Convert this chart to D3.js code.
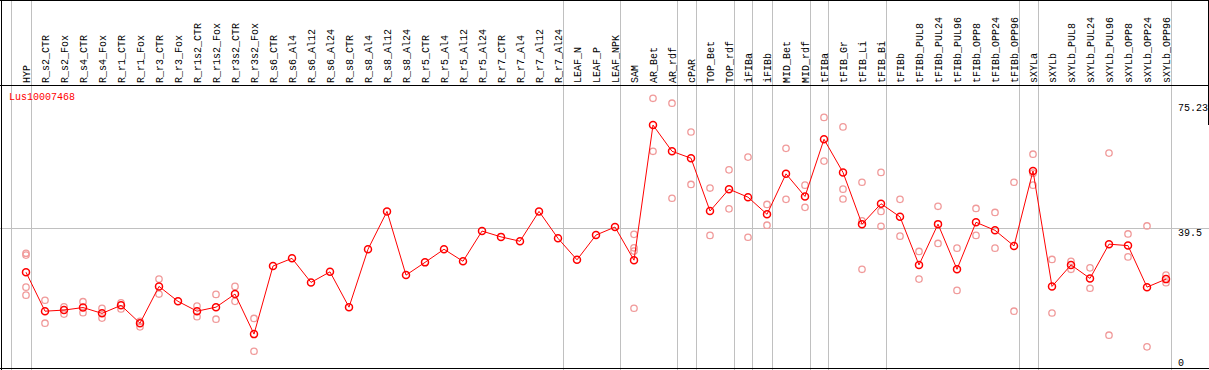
<!DOCTYPE html>
<html>
<head>
<meta charset="utf-8">
<script src="https://cdn.jsdelivr.net/npm/d3@7"></script>
<style>
  html, body { margin: 0; padding: 0; background: #fff; }
  svg { display: block; }
  text { font-family: "Liberation Mono", "DejaVu Sans Mono", monospace; font-size: 10px; }
</style>
</head>
<body>
<div id="chart"></div>
<script>
var geneName = "Lus10007468";

var categories = ["HYP", "R_s2_CTR", "R_s2_Fox", "R_s4_CTR", "R_s4_Fox", "R_r1_CTR", "R_r1_Fox",
  "R_r3_CTR", "R_r3_Fox", "R_r1s2_CTR", "R_r1s2_Fox", "R_r3s2_CTR", "R_r3s2_Fox",
  "R_s6_CTR", "R_s6_Al4", "R_s6_Al12", "R_s6_Al24", "R_s8_CTR", "R_s8_Al4", "R_s8_Al12", "R_s8_Al24",
  "R_r5_CTR", "R_r5_Al4", "R_r5_Al12", "R_r5_Al24", "R_r7_CTR", "R_r7_Al4", "R_r7_Al12", "R_r7_Al24",
  "LEAF_N", "LEAF_P", "LEAF_NPK", "SAM", "AR_Bet", "AR_rdf", "cPAR", "TOP_Bet", "TOP_rdf",
  "iFIBa", "iFIBb", "MID_Bet", "MID_rdf", "tFIBa", "tFIB_Gr", "tFIB_Li", "tFIB_Bi",
  "tFIBb", "tFIBb_PUL8", "tFIBb_PUL24", "tFIBb_PUL96", "tFIBb_OPP8", "tFIBb_OPP24", "tFIBb_OPP96",
  "sXYLa", "sXYLb", "sXYLb_PUL8", "sXYLb_PUL24", "sXYLb_PUL96", "sXYLb_OPP8", "sXYLb_OPP24", "sXYLb_OPP96"];

// mean expression per sample
var means = [27.4, 16.7, 17.0, 17.7, 16.1, 18.3, 13.4,
  23.5, 19.4, 16.7, 17.8, 21.4, 10.4,
  29.1, 31.2, 24.6, 27.5, 17.8, 33.7, 44.1, 26.6,
  30.1, 33.7, 30.4, 38.7, 37.1, 35.9, 44.1, 36.7,
  30.8, 37.6, 39.8, 30.7, 67.8, 60.6, 58.7, 44.2, 50.2,
  48.0, 43.3, 54.4, 48.2, 63.9, 54.8, 40.6, 46.2,
  42.6, 29.4, 40.6, 28.2, 41.1, 38.9, 34.6,
  55.2, 23.5, 29.4, 25.7, 35.1, 34.7, 23.3, 25.5];

// individual replicates (empty = not shown)
var replicates = [
  [32.6, 32.1, 23.3, 21.1], [19.7, 13.4], [17.9, 15.9], [19.3, 16.3], [17.5, 14.8], [19.0, 17.3], [13.9, 12.4],
  [25.5, 21.4], [], [18.1, 15.2], [21.3, 14.5], [23.5, 19.4], [14.7, 5.7],
  [], [], [], [], [], [], [], [],
  [], [], [], [], [], [], [], [],
  [], [], [], [37.8, 34.1, 33.2, 17.5], [75.15, 60.6], [73.8, 47.7], [65.9, 51.5], [50.5, 37.5], [55.5, 44.8],
  [59.0, 37.0], [46.0, 40.3], [61.4, 47.4], [51.3, 45.2], [69.9, 57.9], [67.3, 50.2, 47.5], [52.1, 41.5, 28.2], [54.8, 44.1, 40.0],
  [47.4, 37.3], [33.1, 25.5], [45.5, 35.3], [34.0, 22.4], [44.9, 37.5], [43.8, 34.0], [52.1, 16.7],
  [59.8, 54.6, 51.3], [30.9, 16.2], [30.4, 28.2], [28.6, 23.0], [60.1, 10.1], [37.9, 31.6], [40.1, 6.9], [26.6, 24.5]];

// last sample of each group (separator drawn after it); -1 = before first
var groupEnds = [-1, 0, 28, 31, 34, 35, 37, 38, 39, 41, 42, 45, 52, 53, 60];

var yTicks = [75.23, 39.5, 0];
var yMax = 75.23;

var width = 1209, height = 370;
var headerH = 85;

var svg = d3.select("#chart").append("svg")
  .attr("width", width)
  .attr("height", height);

var x = d3.scaleLinear()
  .domain([0, categories.length - 1])
  .range([26, 26 + 19 * (categories.length - 1)]);

var y = d3.scaleLinear()
  .domain([0, yMax])
  .range([372, 98]);

// gridlines
svg.append("g").selectAll("line")
  .data(groupEnds)
  .enter().append("line")
  .attr("x1", function(d) { return Math.round(x(d) + 4.5) + 0.5; })
  .attr("x2", function(d) { return Math.round(x(d) + 4.5) + 0.5; })
  .attr("y1", 0)
  .attr("y2", height)
  .attr("stroke", "#c0c0c0")
  .attr("stroke-width", 1);

svg.append("line")
  .attr("x1", 0).attr("x2", width)
  .attr("y1", Math.round(y(39.5)) + 0.5)
  .attr("y2", Math.round(y(39.5)) + 0.5)
  .attr("stroke", "#c0c0c0");

// frame
var frame = svg.append("g").attr("stroke", "#000").attr("stroke-width", 1);
frame.append("line").attr("x1", 0).attr("x2", width).attr("y1", 0.5).attr("y2", 0.5);
frame.append("line").attr("x1", 0).attr("x2", width).attr("y1", headerH + 0.5).attr("y2", headerH + 0.5);
frame.append("line").attr("x1", 0).attr("x2", width).attr("y1", height - 1.5).attr("y2", height - 1.5);
frame.append("line").attr("x1", 1.5).attr("x2", 1.5).attr("y1", 0).attr("y2", height);
frame.append("line").attr("x1", width - 0.5).attr("x2", width - 0.5).attr("y1", 0).attr("y2", 125);

// sample labels
svg.append("g").selectAll("text")
  .data(categories)
  .enter().append("text")
  .attr("transform", function(d, i) { return "translate(" + (x(i) + 3.5) + "," + 83 + ") rotate(-90)"; })
  .attr("fill", "#000")
  .text(function(d) { return d; });

// y labels
var tickDy = [13, 8, -6];
svg.append("g").selectAll("text")
  .data(yTicks)
  .enter().append("text")
  .attr("x", 1178)
  .attr("y", function(d, i) { return y(d) + tickDy[i]; })
  .attr("fill", "#000")
  .text(function(d) { return d; });

svg.append("text")
  .attr("x", 9)
  .attr("y", 100)
  .attr("fill", "#ff0000")
  .text(geneName);

// replicates
var repPts = [];
replicates.forEach(function(r, i) {
  r.forEach(function(v) { repPts.push({i: i, v: v}); });
});

svg.append("g").selectAll("circle")
  .data(repPts)
  .enter().append("circle")
  .attr("cx", function(d) { return x(d.i); })
  .attr("cy", function(d) { return y(d.v); })
  .attr("r", 3.2)
  .attr("fill", "none")
  .attr("stroke", "#f09a9a")
  .attr("stroke-width", 1.3);

// mean line
var line = d3.line()
  .x(function(d, i) { return x(i); })
  .y(function(d) { return y(d); });

svg.append("path")
  .datum(means)
  .attr("d", line)
  .attr("fill", "none")
  .attr("stroke", "#ff0000")
  .attr("stroke-width", 1);

svg.append("g").selectAll("circle")
  .data(means)
  .enter().append("circle")
  .attr("cx", function(d, i) { return x(i); })
  .attr("cy", function(d) { return y(d); })
  .attr("r", 3.5)
  .attr("fill", "none")
  .attr("stroke", "#ff0000")
  .attr("stroke-width", 1.5);
</script>
</body>
</html>
